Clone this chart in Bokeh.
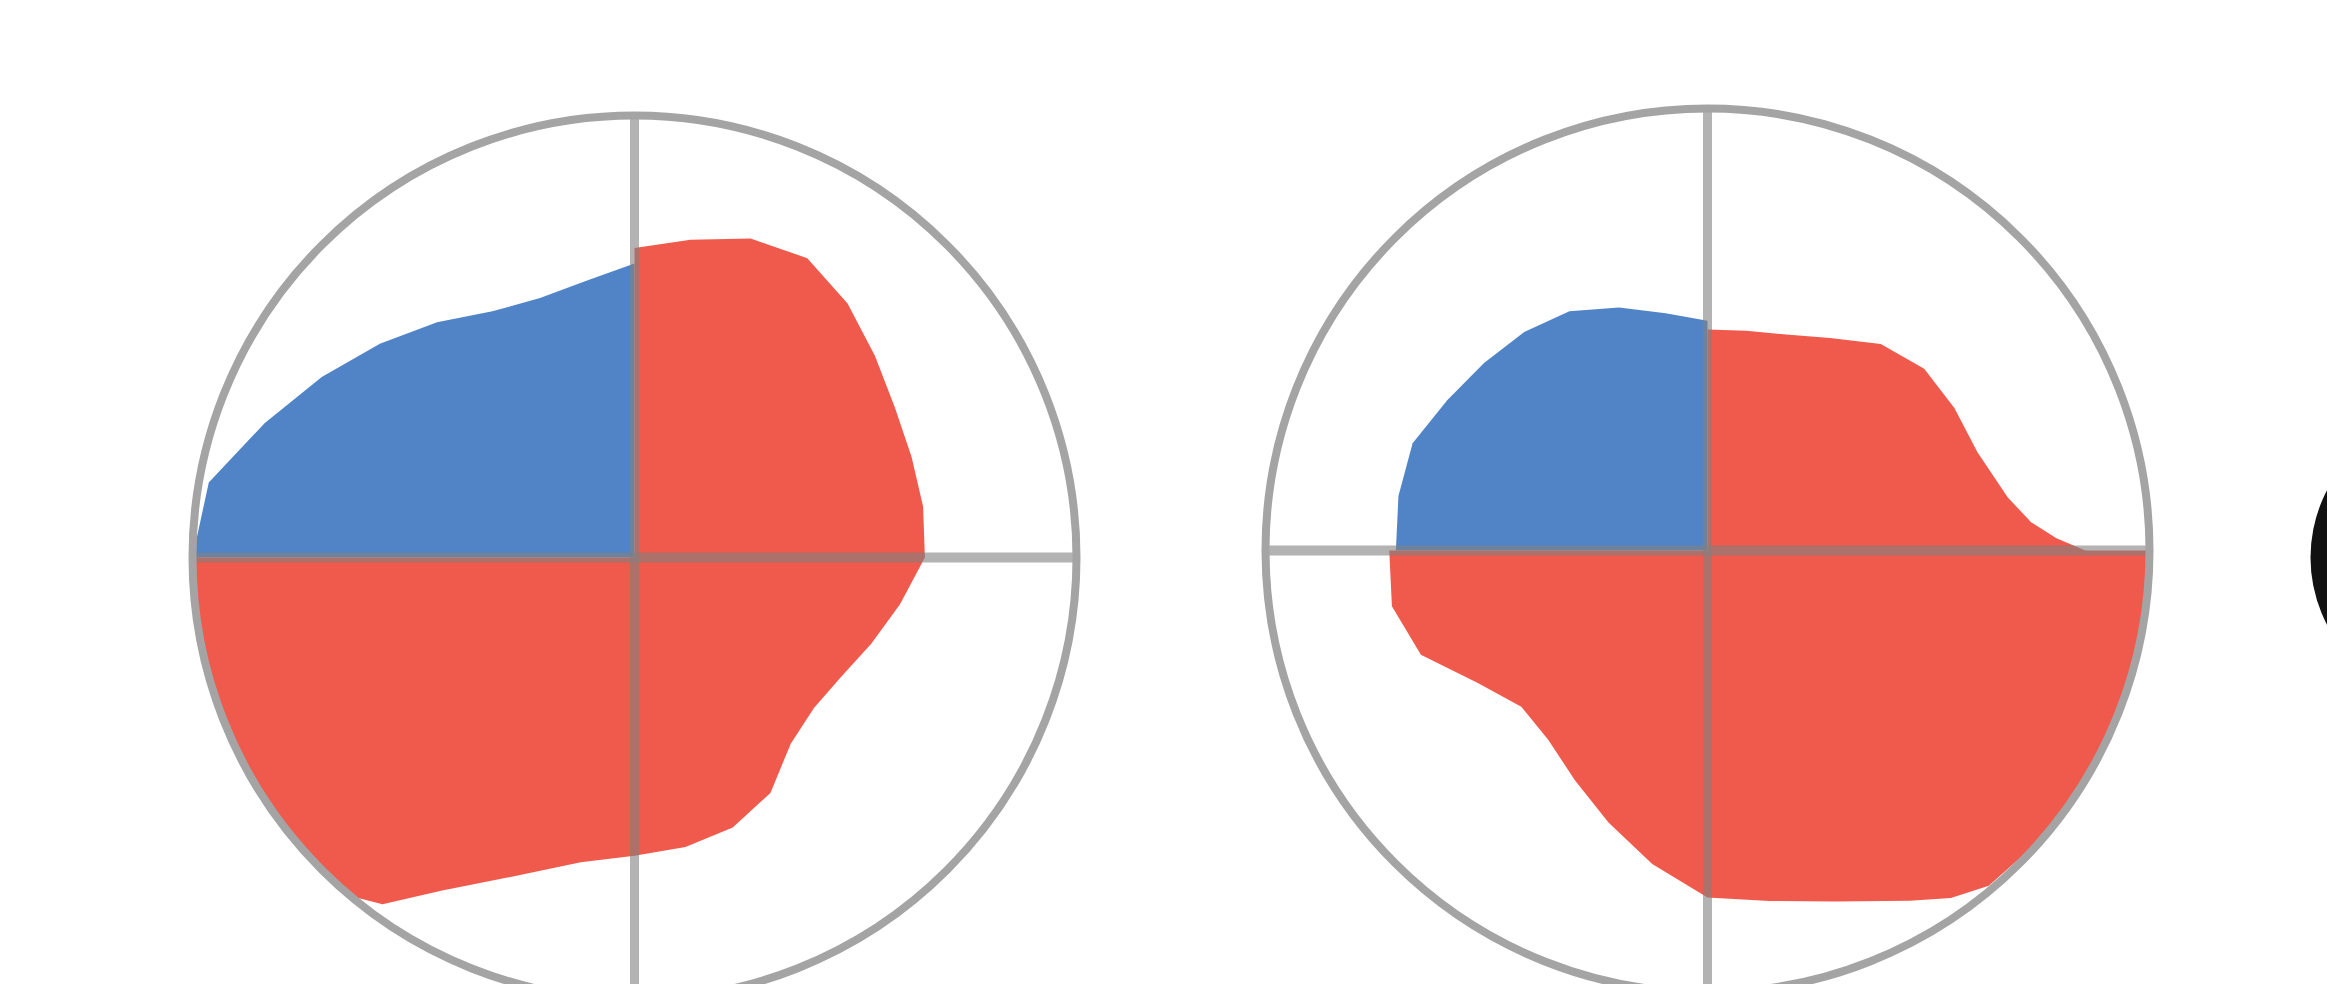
import numpy as np
from bokeh.plotting import figure
from bokeh.models import ColumnDataSource, Range1d
from bokeh.embed import file_html
from bokeh.resources import INLINE

# 各輪廓的半徑 (以外圓半徑為 1)，角度為度，0° 朝右、90° 朝上
# 藍色區：左上象限 (90° -> 180°)
blue_angles = [90, 100, 110, 120, 130, 140, 150, 160, 170, 180]
blue_left = [0.665, 0.635, 0.625, 0.643, 0.695, 0.752, 0.817, 0.89, 0.978, 1.0]
blue_right = [0.52, 0.545, 0.585, 0.625, 0.645, 0.66, 0.68, 0.71, 0.71, 0.705]

# 紅色區：其餘三個象限 (90° -> 0° -> -180°)
red_left_angles = [90, 80, 70, 60, 50, 40, 30, 20, 10, 0,
                   -10, -20, -30, -40, -50, -60, -70, -80, -90, -100, -110, -120,
                   -126, -130, -140, -150, -160, -170, -180]
red_left = [0.70, 0.73, 0.768, 0.782, 0.75, 0.71, 0.68, 0.667, 0.663, 0.657,
            0.61, 0.57, 0.54, 0.53, 0.55, 0.615, 0.65, 0.665, 0.675, 0.70, 0.765, 0.87,
            0.97, 1.0, 1.0, 1.0, 1.0, 1.0, 1.0]

red_right_angles = [90, 80, 70, 60, 50, 40, 30, 20, 10, 5, 2, 0, 0,
                    -10, -20, -30, -40, -50, -55, -60, -70, -80, -90,
                    -100, -110, -120, -130, -140, -150, -160, -170, -180]
red_right = [0.50, 0.505, 0.52, 0.555, 0.61, 0.64, 0.645, 0.65, 0.69, 0.735, 0.79, 0.855, 1.0,
             1.0, 1.0, 1.0, 1.0, 0.99, 0.96, 0.915, 0.845, 0.805, 0.785,
             0.72, 0.655, 0.60, 0.56, 0.55, 0.60, 0.69, 0.725, 0.72]

BLUE = "#5084c6"
RED = "#f05a4c"
GRID = "#808080"
RING = "#a4a4a4"

# 版面：資料座標即畫面像素 (y 向下)
W, H = 2327, 984
R = 442
centers = [(634, 557), (1707, 550)]


def polar_patch(cx, cy, angles, radii):
    t = np.radians(np.array(angles, dtype=float))
    r = np.array(radii, dtype=float) * R
    xs = np.concatenate([[cx], cx + r * np.cos(t)])
    ys = np.concatenate([[cy], cy - r * np.sin(t)])
    return list(xs), list(ys)


p = figure(width=W, height=H,
           x_range=Range1d(0, W), y_range=Range1d(H, 0),
           output_backend="svg", toolbar_location=None, tools="",
           min_border=0, outline_line_color=None,
           x_axis_location=None, y_axis_location=None)
p.grid.visible = False

shapes = [
    (centers[0], blue_angles, blue_left, BLUE),
    (centers[0], red_left_angles, red_left, RED),
    (centers[1], blue_angles, blue_right, BLUE),
    (centers[1], red_right_angles, red_right, RED),
]
xs, ys, cols = [], [], []
for (cx, cy), ang, rad, col in shapes:
    x, y = polar_patch(cx, cy, ang, rad)
    xs.append(x)
    ys.append(y)
    cols.append(col)
p.patches("xs", "ys", fill_color="c", line_color=None,
          source=ColumnDataSource(dict(xs=xs, ys=ys, c=cols)))

# 十字線
cx_list = [c[0] for c in centers]
cy_list = [c[1] for c in centers]
p.segment(x0=[x - R for x in cx_list], y0=cy_list, x1=[x + R for x in cx_list], y1=cy_list,
          line_color=GRID, line_alpha=0.6, line_width=10)
p.segment(x0=cx_list, y0=[y - R for y in cy_list], x1=cx_list, y1=[y + R for y in cy_list],
          line_color=GRID, line_alpha=0.6, line_width=9)

# 外圓
p.circle(x=cx_list, y=cy_list, radius=R, fill_color=None, line_color=RING, line_width=8)

# 右側被裁切的黑色圖形
p.circle(x=[2455], y=[557], radius=145, fill_color="#111111", line_color=None)

open("out.html", "w").write(file_html(p, INLINE))
